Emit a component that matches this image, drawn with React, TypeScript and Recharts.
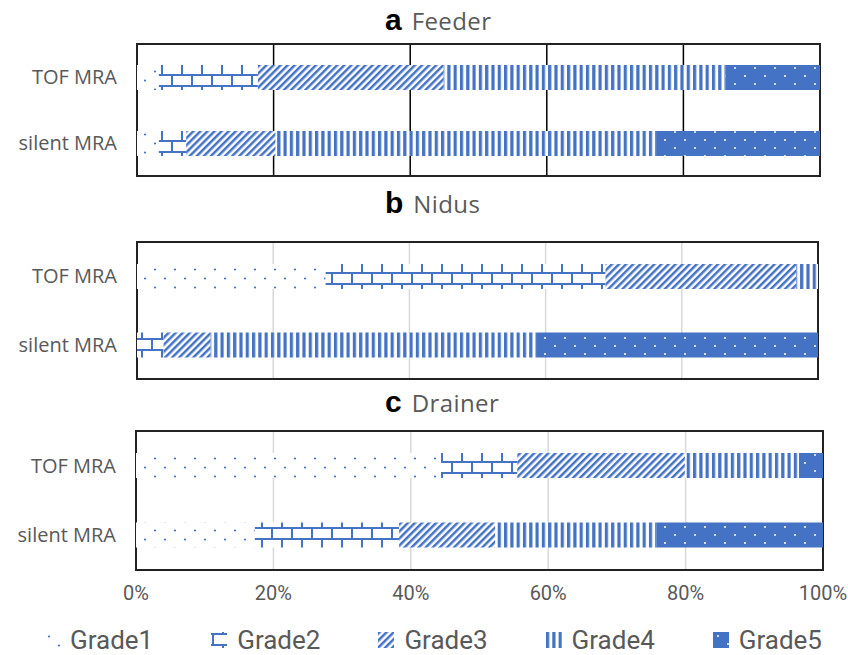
import React from 'react';
import { BarChart, Bar, XAxis, YAxis, CartesianGrid, ReferenceArea } from 'recharts';

const categories = ['TOF MRA', 'silent MRA'];
const grades = ['Grade1', 'Grade2', 'Grade3', 'Grade4', 'Grade5'];
const xTicks = [0, 20, 40, 60, 80, 100];

// percentages per grade, [TOF, silent]
const feederGrade1 = [3.2, 3.2];
const feederGrade2 = [14.5, 4.0];
const feederGrade3 = [27.2, 13.1];
const feederGrade4 = [41.3, 55.7];
const feederGrade5 = [13.8, 24.0];

const nidusGrade1 = [27.7, 0];
const nidusGrade2 = [41.1, 3.9];
const nidusGrade3 = [28.0, 6.9];
const nidusGrade4 = [3.2, 47.8];
const nidusGrade5 = [0, 41.4];

const drainerGrade1 = [44.4, 17.3];
const drainerGrade2 = [11.1, 21.0];
const drainerGrade3 = [24.4, 14.0];
const drainerGrade4 = [16.6, 23.5];
const drainerGrade5 = [3.5, 24.2];

const BLUE = '#4472C4';
const GREY = '#595959';
const LABEL_FONT = '"Open Sans", sans-serif';
const TICK_FONT = 'Roboto, sans-serif';
const patternIds = ['pg1', 'pg2', 'pg3', 'pg4', 'pg5'];

function buildRows(cols: number[][]) {
  return categories.map((name, i) => {
    const row: Record<string, any> = { name };
    grades.forEach((g, k) => {
      row[g] = cols[k][i];
    });
    return row;
  });
}

const feederRows = buildRows([feederGrade1, feederGrade2, feederGrade3, feederGrade4, feederGrade5]);
const nidusRows = buildRows([nidusGrade1, nidusGrade2, nidusGrade3, nidusGrade4, nidusGrade5]);
const drainerRows = buildRows([drainerGrade1, drainerGrade2, drainerGrade3, drainerGrade4, drainerGrade5]);

function Patterns() {
  return (
    <svg width={0} height={0} style={{ position: 'absolute' }}>
      <defs>
        <pattern id="pg1" width={20} height={18} patternUnits="userSpaceOnUse">
          <rect width={20} height={18} fill="#fff" />
          <circle cx={5} cy={4.5} r={1.1} fill={BLUE} />
          <circle cx={15} cy={13.5} r={1.1} fill={BLUE} />
        </pattern>
        <pattern id="pg2" width={20} height={22} patternUnits="userSpaceOnUse">
          <rect width={20} height={22} fill="#fff" />
          <path d="M0 2H20M0 13H20M2 2V13M12 13V24M12 -9V2" stroke={BLUE} strokeWidth={2} />
        </pattern>
        <pattern id="pg3" width={5} height={5} patternUnits="userSpaceOnUse" patternTransform="rotate(45)">
          <rect width={5} height={5} fill="#fff" />
          <rect width={2.5} height={5} fill={BLUE} />
        </pattern>
        <pattern id="pg4" width={6.3} height={6} patternUnits="userSpaceOnUse">
          <rect width={6.3} height={6} fill="#fff" />
          <rect width={3.2} height={6} fill={BLUE} />
        </pattern>
        <pattern id="pg5" width={20} height={16} patternUnits="userSpaceOnUse">
          <rect width={20} height={16} fill={BLUE} />
          <circle cx={5} cy={4} r={1} fill="#fff" />
          <circle cx={15} cy={12} r={1} fill="#fff" />
        </pattern>
      </defs>
    </svg>
  );
}

type PanelProps = {
  letter: string;
  label: string;
  rows: Record<string, any>[];
  top: number;
  plotHeight: number;
  plotLeft: number;
  plotRight: number;
  gridColor: string;
  titleTop: number;
  showAxis?: boolean;
};

function Panel({ letter, label, rows, top, plotHeight, plotLeft, plotRight, gridColor, titleTop, showAxis }: PanelProps) {
  const axisH = showAxis ? 40 : 0;
  return (
    <>
      <div
        style={{
          position: 'absolute',
          left: 385,
          top: titleTop,
          height: 34,
          lineHeight: '34px',
          whiteSpace: 'nowrap',
        }}
      >
        <span style={{ fontFamily: '"Liberation Sans", Arial, sans-serif', fontWeight: 700, fontSize: 30, color: '#000' }}>
          {letter}
        </span>
        <span style={{ fontFamily: LABEL_FONT, fontSize: 24, color: GREY, marginLeft: 10, letterSpacing: 0.4 }}>
          {label}
        </span>
      </div>
      <div style={{ position: 'absolute', left: 0, top: top - 4 }}>
        <BarChart
          width={848}
          height={plotHeight + 8 + axisH}
          data={rows}
          layout="vertical"
          barSize={25}
          margin={{ top: 4, right: 848 - plotRight, bottom: showAxis ? 0 : 4, left: 0 }}
        >
          <CartesianGrid horizontal={false} stroke={gridColor} strokeWidth={1.5} />
          <XAxis
            type="number"
            domain={[0, 100]}
            ticks={xTicks}
            interval={0}
            hide={!showAxis}
            height={axisH || 1}
            tickFormatter={(v: number) => `${v}%`}
            axisLine={false}
            tickLine={false}
            tickSize={0}
            tickMargin={16}
            tick={{ fill: GREY, fontSize: 20, fontFamily: TICK_FONT }}
          />
          <YAxis
            type="category"
            dataKey="name"
            width={plotLeft}
            axisLine={false}
            tickLine={false}
            tickSize={0}
            tickMargin={20}
            tick={{ fill: GREY, fontSize: 20, fontFamily: LABEL_FONT }}
          />
          {grades.map((g, k) => (
            <Bar key={g} dataKey={g} stackId="s" fill={`url(#${patternIds[k]})`} isAnimationActive={false} />
          ))}
          <ReferenceArea x1={0} x2={100} fill="none" stroke="#222" strokeWidth={2} ifOverflow="visible" />
        </BarChart>
      </div>
    </>
  );
}

function LegendRow() {
  return (
    <div
      style={{
        position: 'absolute',
        left: 44,
        top: 625,
        width: 778,
        height: 30,
        display: 'flex',
        justifyContent: 'space-between',
        alignItems: 'center',
        fontFamily: TICK_FONT,
        fontSize: 26,
        lineHeight: '30px',
        color: GREY,
      }}
    >
      {grades.map((g, k) => (
        <div key={g} style={{ display: 'flex', alignItems: 'center', gap: 10 }}>
          <svg width={16} height={16}>
            <rect width={16} height={16} fill={`url(#${patternIds[k]})`} />
          </svg>
          <span>{g}</span>
        </div>
      ))}
    </div>
  );
}

export default function App() {
  return (
    <div style={{ position: 'absolute', left: 0, top: 0, width: 848, height: 655, background: '#fff', overflow: 'hidden' }}>
      <Patterns />
      <Panel
        letter="a"
        label="Feeder"
        rows={feederRows}
        top={44}
        plotHeight={132}
        plotLeft={137}
        plotRight={820}
        gridColor="#000"
        titleTop={3}
      />
      <Panel
        letter="b"
        label="Nidus"
        rows={nidusRows}
        top={242}
        plotHeight={137}
        plotLeft={137}
        plotRight={818}
        gridColor="#d9d9d9"
        titleTop={186}
      />
      <Panel
        letter="c"
        label="Drainer"
        rows={drainerRows}
        top={431}
        plotHeight={135}
        plotLeft={136}
        plotRight={823}
        gridColor="#d9d9d9"
        titleTop={385}
        showAxis
      />
      <LegendRow />
    </div>
  );
}
